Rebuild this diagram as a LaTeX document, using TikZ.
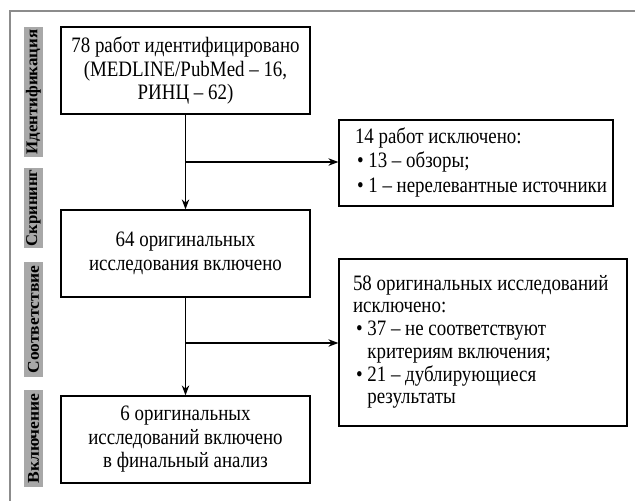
\documentclass[tikz,border=0pt]{standalone}
\usepackage{fontspec}
\usepackage{graphicx}
\setmainfont{Liberation Serif}[FakeStretch=0.86]
\usetikzlibrary{arrows.meta}
\definecolor{framegray}{HTML}{8C8C8C}
\definecolor{lblgray}{HTML}{A8A8A8}
\newcommand{\sidetext}[2]{\makebox[#1][l]{\begin{tabular}[c]{@{}l@{}}#2\end{tabular}}}
\newcommand{\lbltext}[2]{\resizebox{#1}{\height}{#2}}
\begin{document}
\begin{tikzpicture}[x=1pt,y=1pt,
  box/.style={draw=black, line width=1.3pt, fill=white, inner sep=0pt, align=center,
    minimum width=249pt, minimum height=87pt, font=\fontsize{22}{23.5}\selectfont},
  sidebox/.style={draw=black, line width=1.3pt, fill=white, inner ysep=0pt,
    font=\fontsize{22}{24.3}\selectfont},
  lbl/.style={fill=lblgray, rotate=90, inner sep=0pt, minimum height=19pt,
    font=\fontsize{16.5}{16.5}\selectfont\bfseries},
  arr/.style={line width=1.2pt, -{Stealth[length=10pt,width=7.5pt]}},
  frame/.style={draw=framegray, line width=2pt}
]
\useasboundingbox (0,0) rectangle (635,-501);
\draw[frame] (9.5,-501) -- (9.5,-11) -- (635,-11);

% stage labels
\node[lbl, minimum width=130pt] (l1) at (33.5,-92) {\lbltext{125pt}{Идентификация}};
\node[lbl, minimum width=80pt] (l2) at (33.5,-208) {\lbltext{77pt}{Скрининг}};
\node[lbl, minimum width=115pt] (l3) at (33.5,-319.5) {\lbltext{108pt}{Соответствие}};
\node[lbl, minimum width=97pt] (l4) at (33.5,-438.5) {\lbltext{90pt}{Включение}};

% main boxes
\node[box] (b1) at (185.5,-70.5) {78 работ идентифицировано\\(MEDLINE/PubMed – 16,\\РИНЦ – 62)};
\node[box] (b2) at (185.5,-253.5) {64 оригинальных\\исследования включено};
\node[box] (b3) at (185.5,-439.5) {6 оригинальных\\исследований включено\\в финальный анализ};

% side boxes
\node[sidebox, minimum height=86pt, inner xsep=16pt] (r1) at (476,-163)
  {\sidetext{242pt}{14 работ исключено:\\\hspace*{2pt}• 13 – обзоры;\\\hspace*{2pt}• 1 – нерелевантные источники}};
\node[sidebox, minimum height=167pt, inner xsep=14pt,
  font=\fontsize{22}{22.7}\selectfont] (r2) at (483,-342.5)
  {\sidetext{260pt}{58 оригинальных исследований\\исключено:\\\hspace*{3pt}• 37 – не соответствуют\\\hspace*{3pt}\phantom{•}\ критериям включения;\\\hspace*{3pt}• 21 – дублирующиеся\\\hspace*{3pt}\phantom{•}\ результаты}};

% connectors
\coordinate (c1) at (185.5,-162);
\coordinate (c2) at (185.5,-343);
\draw[arr] (b1) -- (b2);
\draw[arr] (b2) -- (b3);
\draw[arr] (c1) -- (c1 -| r1.west);
\draw[arr] (c2) -- (c2 -| r2.west);
\end{tikzpicture}
\end{document}
